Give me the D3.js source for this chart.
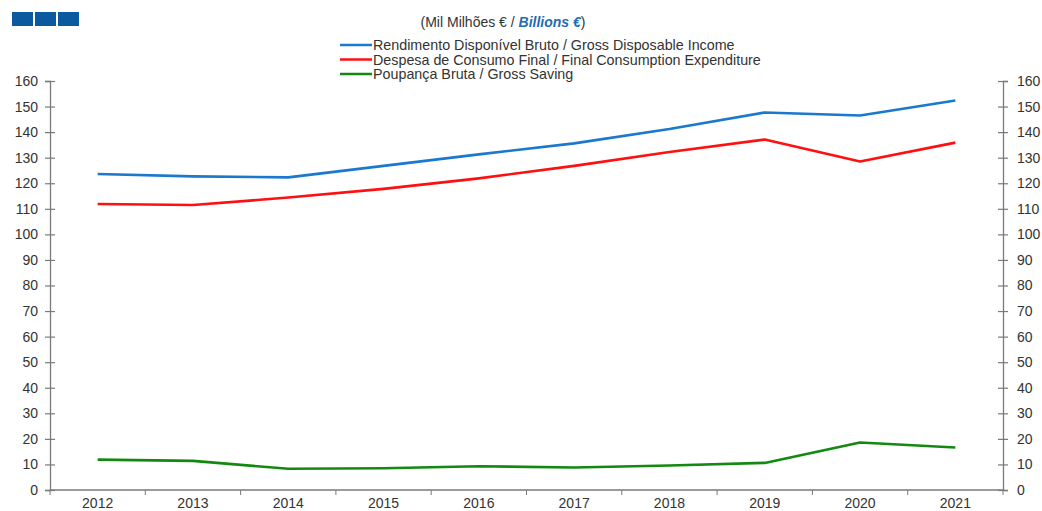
<!DOCTYPE html>
<html>
<head>
<meta charset="utf-8">
<script src="https://cdn.jsdelivr.net/npm/d3@7"></script>
<style>
  html, body { margin: 0; padding: 0; background: #fff; }
  svg { display: block; font-family: "Liberation Sans", Arial, sans-serif; }
</style>
</head>
<body>
<svg id="chart" width="1042" height="511"></svg>
<script>
// Years on the horizontal axis
const years = ["2012", "2013", "2014", "2015", "2016", "2017", "2018", "2019", "2020", "2021"];

// Series, thousand million euro
const grossDisposableIncome = [123.6, 122.7, 122.3, 126.8, 131.3, 135.6, 141.2, 147.7, 146.5, 152.4];
const finalConsumption      = [111.9, 111.5, 114.4, 117.8, 121.9, 126.8, 132.2, 137.1, 128.5, 135.9];
const grossSaving           = [11.9, 11.4, 8.3, 8.5, 9.3, 8.8, 9.6, 10.6, 18.6, 16.6];

// Legend labels
const seriesNames = [
  "Rendimento Disponível Bruto / Gross Disposable Income",
  "Despesa de Consumo Final / Final Consumption Expenditure",
  "Poupança Bruta / Gross Saving"
];

const yTicks = d3.range(0, 161, 10);

const series = [
  { name: seriesNames[0], values: grossDisposableIncome, color: "#1a78cf" },
  { name: seriesNames[1], values: finalConsumption,      color: "#ff0f0f" },
  { name: seriesNames[2], values: grossSaving,           color: "#13890f" }
];

const svg = d3.select("#chart");
const margin = { left: 50, right: 1003, top: 81, bottom: 490 };
const axisColor = "#7a7a7a";
const textColor = "#333";

const x = d3.scaleBand().domain(years).range([margin.left, margin.right]);
const y = d3.scaleLinear().domain([0, 160]).range([margin.bottom, margin.top]);

// Corner logo: three blue tiles
const logo = svg.append("g");
[0, 1, 2].forEach(i => {
  logo.append("rect")
    .attr("x", 12 + i * 23).attr("y", 12)
    .attr("width", 21).attr("height", 14)
    .attr("fill", "#0b5aa0");
});

// Units title
const title = svg.append("text")
  .attr("x", 503).attr("y", 27)
  .attr("text-anchor", "middle")
  .attr("font-size", 14)
  .attr("fill", textColor);
title.append("tspan").text("(Mil Milhões € / ");
title.append("tspan").text("Billions €")
  .attr("font-weight", "bold").attr("font-style", "italic").attr("fill", "#1f6db4");
title.append("tspan").text(")");

// Legend
const legend = svg.append("g");
series.forEach((s, i) => {
  const ly = 45 + i * 14.5;
  legend.append("line")
    .attr("x1", 340).attr("x2", 372)
    .attr("y1", ly).attr("y2", ly)
    .attr("stroke", s.color).attr("stroke-width", 2.5);
  legend.append("text")
    .attr("x", 373).attr("y", ly + 5)
    .attr("font-size", 14.3)
    .attr("fill", textColor)
    .text(s.name);
});

// Left axis
const leftAxis = svg.append("g")
  .attr("transform", `translate(${margin.left},0)`)
  .call(d3.axisLeft(y).tickValues(yTicks).tickSize(5).tickPadding(7).tickFormat(d3.format("d")));

// Right axis
const rightAxis = svg.append("g")
  .attr("transform", `translate(${margin.right},0)`)
  .call(d3.axisRight(y).tickValues(yTicks).tickSize(5).tickPadding(9).tickFormat(d3.format("d")));

// Extend y ticks so they cross the axis line
[leftAxis, rightAxis].forEach(g => {
  g.selectAll(".tick line").attr("x1", -5).attr("x2", 5);
});

// Bottom axis with ticks at category boundaries
const bottomAxis = svg.append("g")
  .attr("transform", `translate(0,${margin.bottom})`)
  .call(d3.axisBottom(x).tickSize(0).tickPadding(8));

const boundaries = years.map(yr => x(yr)).concat([x(years[years.length - 1]) + x.bandwidth()]);
bottomAxis.selectAll(".boundary")
  .data(boundaries)
  .join("line")
  .attr("class", "boundary")
  .attr("x1", d => d).attr("x2", d => d)
  .attr("y1", 0).attr("y2", 5)
  .attr("stroke", axisColor);

[leftAxis, rightAxis, bottomAxis].forEach(g => {
  g.select(".domain").attr("stroke", axisColor).attr("stroke-width", 1.3);
  g.selectAll(".tick line").attr("stroke", axisColor).attr("stroke-width", 1.2);
  g.selectAll("text").attr("font-size", 14).attr("fill", textColor)
    .attr("font-family", "Liberation Sans, Arial, sans-serif");
});
bottomAxis.select(".domain").attr("d", `M${margin.left},0H${margin.right}`);

// Series lines
const line = d3.line()
  .x((d, i) => x(years[i]) + x.bandwidth() / 2)
  .y(d => y(d));

svg.append("g").selectAll("path")
  .data(series)
  .join("path")
  .attr("d", s => line(s.values))
  .attr("fill", "none")
  .attr("stroke", s => s.color)
  .attr("stroke-width", 2.6)
  .attr("stroke-linejoin", "round")
  .attr("stroke-linecap", "butt");
</script>
</body>
</html>
